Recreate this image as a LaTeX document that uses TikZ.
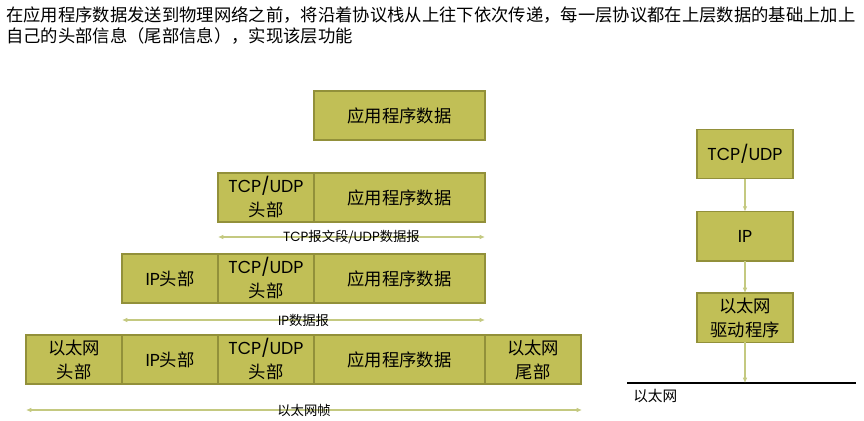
\documentclass[tikz,border=0pt]{standalone}
\usepackage{fontspec}
\newfontfamily\cjk{Noto Sans CJK SC}
\newfontfamily\latn{Poppins}
\usetikzlibrary{arrows.meta,positioning}
\definecolor{segfill}{RGB}{193,191,86}
\definecolor{segline}{RGB}{146,144,58}
\definecolor{spanline}{RGB}{196,201,128}

\begin{document}
\begin{tikzpicture}[x=0.75pt,y=-0.75pt,>=Latex,
  seg/.style={draw=segline,fill=segfill,line width=0.9pt,minimum height=36.75pt,
    inner sep=0pt,outer sep=0pt,align=center,
    font=\cjk\fontsize{13}{18}\selectfont},
  hdr/.style={seg,minimum width=72pt},
  data/.style={seg,minimum width=128.25pt},
  layer/.style={seg,minimum width=72pt,minimum height=37pt},
  span/.style={<->,draw=spanline,line width=0.8pt,
    arrows={Latex[length=4pt,width=3.5pt]-Latex[length=4pt,width=3.5pt]}},
  spanlbl/.style={font=\cjk\fontsize{10}{12}\selectfont,inner sep=0pt},
  flow/.style={->,draw=spanline,line width=0.8pt,
    arrows={-Latex[length=4pt,width=3.5pt]}}]

\useasboundingbox (0,0) rectangle (864,421);

\node[anchor=north west,align=left,inner sep=0pt,
  font=\cjk\fontsize{13}{15.75}\selectfont] (intro) at (6,6)
  {在应用程序数据发送到物理网络之前，将沿着协议栈从上往下依次传递，每一层协议都在上层数据的基础上加上\\
   自己的头部信息（尾部信息），实现该层功能};

% application data
\node[data] (app1) at (399.5,115.5) {应用程序数据};

% transport layer
\node[data] (app2) at (399.5,197.5) {应用程序数据};
\node[hdr,left=0pt of app2] (tcp2) {{\latn TCP/UDP}\\头部};

% network layer
\node[data] (app3) at (399.5,278.5) {应用程序数据};
\node[hdr,left=0pt of app3] (tcp3) {{\latn TCP/UDP}\\头部};
\node[hdr,left=0pt of tcp3] (ip3) {{\latn IP}头部};

% link layer
\node[data] (app4) at (399.5,359.5) {应用程序数据};
\node[hdr,left=0pt of app4] (tcp4) {{\latn TCP/UDP}\\头部};
\node[hdr,left=0pt of tcp4] (ip4) {{\latn IP}头部};
\node[hdr,left=0pt of ip4] (eth4) {以太网\\头部};
\node[hdr,right=0pt of app4] (tail4) {以太网\\尾部};

% spans
\coordinate (s2l) at (218,237);
\coordinate (s2r) at (485,237);
\coordinate (s3l) at (122,320);
\coordinate (s3r) at (485,320);
\coordinate (s4l) at (26,410);
\coordinate (s4r) at (582,410);
\draw[span] (s2l) -- node[spanlbl] (lbl2) {{\latn TCP}报文段/{\latn UDP}数据报} (s2r);
\draw[span] (s3l) -- node[spanlbl] (lbl3) {{\latn IP}数据报} (s3r);
\draw[span] (s4l) -- node[spanlbl] (lbl4) {以太网帧} (s4r);

% protocol stack
\node[layer] (tl) at (745,154) {{\latn TCP/UDP}};
\node[layer,below=24.75pt of tl] (nl) {{\latn IP}};
\node[layer,below=24pt of nl] (dl) {以太网\\驱动程序};

\coordinate (wl) at (627,383);
\coordinate (wr) at (856,383);
\coordinate (tap) at (dl.south |- wl);
\draw[line width=0.9pt] (wl) -- (wr);
\node[anchor=north west,inner sep=0pt,font=\cjk\fontsize{11}{13}\selectfont] (wlbl) at (633,389) {以太网};

\draw[flow] (tl) -- (nl);
\draw[flow] (nl) -- (dl);
\draw[flow] (dl) -- (tap);

\end{tikzpicture}
\end{document}
